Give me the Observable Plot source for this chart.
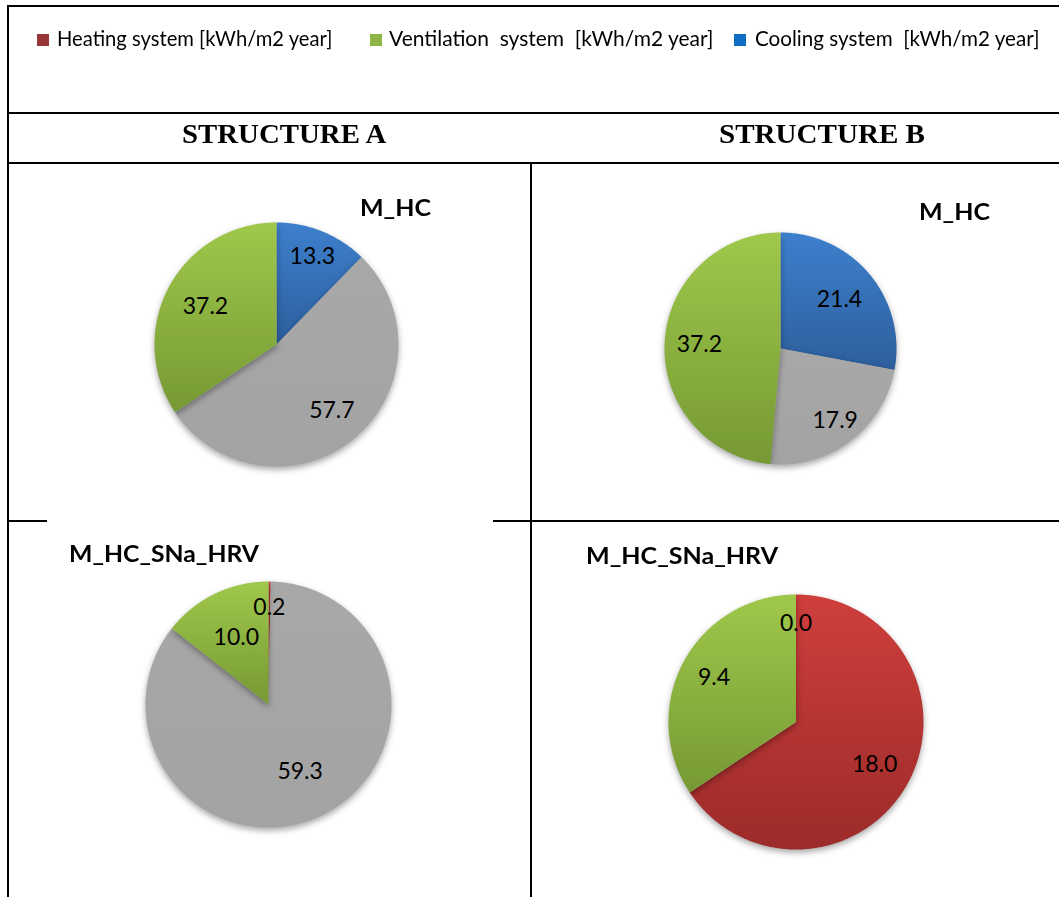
<!DOCTYPE html>
<html>
<head>
<meta charset="utf-8">
<script src="https://cdn.jsdelivr.net/npm/d3@7"></script>
<script src="https://cdn.jsdelivr.net/npm/@observablehq/plot@0.6"></script>
<style>
  html, body { margin: 0; padding: 0; background: #fff; }
  #page { position: relative; width: 1059px; height: 897px; overflow: hidden; font-family: Lato, "Open Sans", sans-serif; color: #000; }
  .ln { position: absolute; background: #000; }
  .lgsq { position: absolute; width: 12px; height: 12px; }
  .txt { position: absolute; white-space: pre; line-height: 1; transform-origin: 0 50%; }
  .hdr { font-family: "Liberation Serif", "Times New Roman", serif; font-weight: bold; }
  .ttl { font-family: Lato, sans-serif; font-weight: bold; }
  .pie { position: absolute; }
</style>
</head>
<body>
<div id="page"></div>
<script>
// ---------- data ----------
const legendLabels = ["Heating system [kWh/m2 year]", "Ventilation  system  [kWh/m2 year]", "Cooling system  [kWh/m2 year]"];
const legendKeys = ["Heating", "Ventilation", "Cooling"];
const legendColors = ["#953735", "#8fb548", "#0e6ec6"];
const structureHeaders = ["STRUCTURE A", "STRUCTURE B"];
const pieTitles = ["M_HC", "M_HC", "M_HC_SNa_HRV", "M_HC_SNa_HRV"];

// slices clockwise from 12 o'clock ("Other" = grey slice, not in legend)
const hcA_categories = ["Cooling", "Other", "Ventilation"];
const hcA_values = [13.3, 57.7, 37.2];
const hcB_categories = ["Cooling", "Other", "Ventilation"];
const hcB_values = [21.4, 17.9, 37.2];
const hrvA_categories = ["Heating", "Other", "Ventilation"];
const hrvA_values = [0.2, 59.3, 10.0];
const hrvB_categories = ["Heating", "Ventilation", "Cooling"];
const hrvB_values = [18.0, 9.4, 0.0];

// slice gradients (top, bottom)
const sliceGradients = {
  Heating: ["#cf3f3c", "#9b2b29"],
  Ventilation: ["#9fc84b", "#769934"],
  Cooling: ["#3d80cd", "#2d5e9c"],
  Other: ["#a8a8a8", "#a3a3a3"]
};

// ---------- page ----------
const page = document.getElementById("page");
function el(cls, css, text) {
  const d = document.createElement("div");
  d.className = cls;
  Object.assign(d.style, css);
  if (text != null) d.textContent = text;
  page.appendChild(d);
  return d;
}
const canvas = document.createElement("canvas");
const ctx = canvas.getContext("2d");
function textWidth(text, weight, size, family) {
  ctx.font = `${weight} ${size}px ${family}`;
  return ctx.measureText(text).width;
}

// hidden gradient defs
const defs = d3.select(page).append("svg").attr("width", 0).attr("height", 0)
  .style("position", "absolute").append("defs");
for (const [k, [c0, c1]] of Object.entries(sliceGradients)) {
  const g = defs.append("linearGradient").attr("id", "grad-" + k)
    .attr("x1", 0).attr("y1", 0).attr("x2", 0).attr("y2", 1);
  g.append("stop").attr("offset", "0%").attr("stop-color", c0);
  g.append("stop").attr("offset", "100%").attr("stop-color", c1);
}

// table lines
const lines = [
  {left: 7, top: 5, width: 1052, height: 2},
  {left: 7, top: 5, width: 2, height: 892},
  {left: 7, top: 112, width: 1052, height: 2},
  {left: 7, top: 162, width: 1052, height: 2},
  {left: 530, top: 162, width: 2, height: 735},
  {left: 7, top: 520, width: 40, height: 2},
  {left: 493, top: 520, width: 566, height: 2}
];
lines.forEach(l => el("ln", {left: l.left + "px", top: l.top + "px", width: l.width + "px", height: l.height + "px"}));

// text placed with a given font size, squeezed horizontally to a target width
function placeText(cls, t, weight, family, size, left, right, cy) {
  const w = textWidth(t, weight, size, family);
  const sx = (right - left) / w;
  el(cls, {left: left + "px", top: (cy - size * 0.62) + "px", fontSize: size + "px",
           transform: `scaleX(${sx})`}, t);
}

// legend
const legendSq = [37, 370, 734];
const legendTx = [[57, 333], [389, 714], [755, 1040]];
legendLabels.forEach((t, i) => {
  el("lgsq", {left: legendSq[i] + "px", top: "34px", background: legendColors[i]});
  placeText("txt", t, "normal", "Lato", 21, legendTx[i][0], legendTx[i][1], 40);
});

// headers
const hdrSpans = [[182, 388], [719, 925]];
structureHeaders.forEach((t, i) => {
  placeText("txt hdr", t, "bold", "'Liberation Serif'", 28, hdrSpans[i][0], hdrSpans[i][1], 137);
});

// pie charts (layout: centre, radius, title box, label radius per slice)
const pies = [
  {cats: hcA_categories, vals: hcA_values, cx: 276, cy: 344, r: 122, title: [360, 431, 210], labelR: [0.78, 0.71, 0.66]},
  {cats: hcB_categories, vals: hcB_values, cx: 779.5, cy: 347.5, r: 116, title: [919, 990, 214], labelR: [0.66, 0.78, 0.70]},
  {cats: hrvA_categories, vals: hrvA_values, cx: 268, cy: 704, r: 123, title: [69, 259, 556], labelR: [0.79, 0.60, 0.60]},
  {cats: hrvB_categories, vals: hrvB_values, cx: 795, cy: 721, r: 127.5, title: [586, 778, 558], labelR: [0.70, 0.73, 0.77]}
];

pies.forEach((p, pi) => {
  const data = p.cats.map((c, i) => ({category: c, value: p.vals[i], lr: p.labelR[i]}));
  const arcs = d3.pie().sort(null).value(d => d.value)(data);
  const size = Math.ceil(2 * p.r + 30);
  const half = size / 2;
  const sliceMarks = arcs.filter(a => a.endAngle - a.startAngle > 0).map(a => {
    const n = Math.max(2, Math.ceil((a.endAngle - a.startAngle) / (Math.PI / 360)));
    const pts = [{x: 0, y: 0}];
    for (let k = 0; k <= n; k++) {
      const t = a.startAngle + (a.endAngle - a.startAngle) * k / n;
      pts.push({x: Math.sin(t), y: Math.cos(t)});
    }
    pts.push({x: 0, y: 0});
    return Plot.line(pts, {x: "x", y: "y", fill: `url(#grad-${a.data.category})`, stroke: "none", curve: "linear"});
  });
  const chart = Plot.plot({
    width: size, height: size,
    margin: 0,
    style: {background: "transparent", overflow: "visible", fontFamily: "Lato, sans-serif"},
    x: {domain: [-1, 1], range: [half - p.r, half + p.r], axis: null},
    y: {domain: [-1, 1], range: [half + p.r, half - p.r], axis: null},
    marks: [
      ...sliceMarks,
      Plot.text(arcs, {
        x: a => a.data.lr * Math.sin((a.startAngle + a.endAngle) / 2),
        y: a => a.data.lr * Math.cos((a.startAngle + a.endAngle) / 2),
        text: a => a.data.value.toFixed(1),
        fontSize: 23, fill: "#000"
      })
    ]
  });
  d3.select(chart).selectAll('g[aria-label="line"]').style("filter", "drop-shadow(0px 3px 3px rgba(0,0,0,0.35))");
  chart.classList.add("pie");
  chart.style.left = (p.cx - half) + "px";
  chart.style.top = (p.cy - half) + "px";
  page.appendChild(chart);

  placeText("txt ttl", pieTitles[pi], "bold", "Lato", 23, p.title[0], p.title[1], p.title[2]);
});
</script>
</body>
</html>
